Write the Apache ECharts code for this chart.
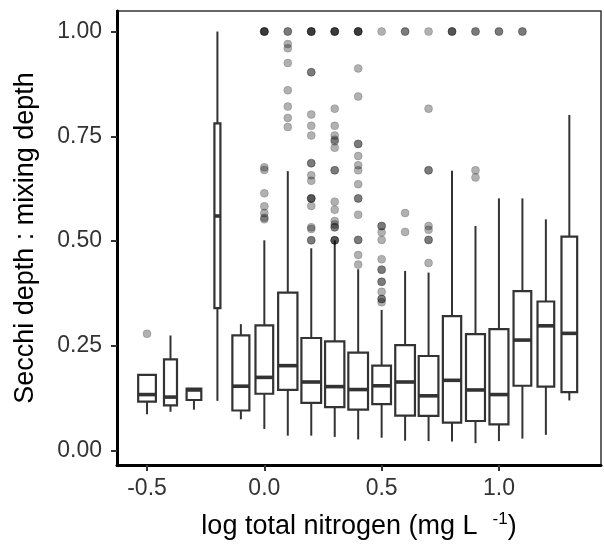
<!DOCTYPE html>
<html><head><meta charset="utf-8">
<script src="https://cdn.jsdelivr.net/npm/echarts@6/dist/echarts.min.js"></script>
<style>html,body{margin:0;padding:0;background:#fff}#c{width:604px;height:545px}</style>
</head><body><div id="c"></div>
<script>
// ---- data ----
const groups      = [-0.5, -0.4, -0.3, -0.2, -0.1, 0.0, 0.1, 0.2, 0.3, 0.4, 0.5, 0.6, 0.7, 0.8, 0.9, 1.0, 1.1, 1.2, 1.3];
const whiskerLow  = [0.087, 0.093, 0.098, 0.119, 0.075, 0.052, 0.036, 0.036, 0.033, 0.027, 0.031, 0.024, 0.023, 0.022, 0.018, 0.023, 0.029, 0.038, 0.120];
const q1          = [0.117, 0.108, 0.121, 0.340, 0.096, 0.136, 0.145, 0.114, 0.104, 0.098, 0.111, 0.084, 0.083, 0.067, 0.071, 0.063, 0.155, 0.153, 0.140];
const median      = [0.134, 0.128, 0.145, 0.560, 0.154, 0.175, 0.203, 0.164, 0.153, 0.146, 0.155, 0.164, 0.131, 0.168, 0.145, 0.134, 0.264, 0.298, 0.280];
const q3          = [0.181, 0.218, 0.148, 0.781, 0.275, 0.299, 0.377, 0.269, 0.261, 0.234, 0.203, 0.252, 0.226, 0.321, 0.278, 0.290, 0.381, 0.356, 0.511];
const whiskerHigh = [0.183, 0.275, 0.148, 1.000, 0.302, 0.502, 0.667, 0.483, 0.502, 0.433, 0.336, 0.429, 0.425, 0.668, 0.536, 0.602, 0.602, 0.552, 0.801];

const outlierGroups = [-0.5, 0.0, 0.1, 0.2, 0.3, 0.4, 0.5, 0.6, 0.7, 0.8, 0.9, 1.0, 1.1];
const outlierValues = [
  [0.279],
  [1, 1, 1, 1, 0.676, 0.670, 0.614, 0.583, 0.567, 0.556, 0.552],
  [1, 1, 0.970, 0.960, 0.925, 0.860, 0.821, 0.794, 0.772],
  [1, 1, 1, 1, 0.903, 0.903, 0.802, 0.775, 0.752, 0.686, 0.686, 0.657, 0.644, 0.602, 0.602, 0.602, 0.584, 0.533, 0.529, 0.502, 0.502],
  [1, 1, 1, 1, 0.816, 0.775, 0.752, 0.742, 0.738, 0.723, 0.669, 0.669, 0.594, 0.575, 0.548, 0.540, 0.533, 0.533, 0.502, 0.502, 0.502],
  [1, 1, 1, 1, 0.912, 0.845, 0.732, 0.732, 0.703, 0.681, 0.669, 0.636, 0.602, 0.602, 0.563, 0.503, 0.503, 0.467, 0.444],
  [1, 0.536, 0.536, 0.521, 0.503, 0.457, 0.432, 0.432, 0.403, 0.403, 0.379, 0.362, 0.362, 0.354],
  [1, 1, 0.567, 0.522],
  [1, 0.816, 0.669, 0.669, 0.536, 0.527, 0.503, 0.503, 0.448],
  [1, 1, 1],
  [1, 1, 0.669, 0.652],
  [1, 1],
  [1, 1]
];

const xTickValues = [-0.5, 0.0, 0.5, 1.0];
const yTickValues = [0, 0.25, 0.5, 0.75, 1.0];

// ---- style (box widths in px, varying like varwidth) ----
const boxWidthsPx = [17.7, 13, 14.7, 6, 17, 17.7, 19.3, 19.7, 19.3, 19.7, 18.7, 19.7, 19.7, 18.3, 19, 19, 17.7, 16.7, 15.7];

const boxData = groups.map((g, i) => [g, whiskerLow[i], q1[i], median[i], q3[i], whiskerHigh[i]]);
const pointData = [];
outlierGroups.forEach((g, i) => outlierValues[i].forEach(v => pointData.push([g, v])));

const LINE = '#333';
function renderBox(params, api) {
  const x = api.value(0);
  const pLo = api.coord([x, api.value(1)]);
  const pQ1 = api.coord([x, api.value(2)]);
  const pMed = api.coord([x, api.value(3)]);
  const pQ3 = api.coord([x, api.value(4)]);
  const pHi = api.coord([x, api.value(5)]);
  const w = boxWidthsPx[params.dataIndex];
  const cx = pQ1[0];
  return {
    type: 'group',
    children: [
      { type: 'line', shape: { x1: cx, y1: pLo[1], x2: cx, y2: pQ1[1] }, style: { stroke: LINE, lineWidth: 2 } },
      { type: 'line', shape: { x1: cx, y1: pQ3[1], x2: cx, y2: pHi[1] }, style: { stroke: LINE, lineWidth: 2 } },
      { type: 'rect', shape: { x: cx - w / 2, y: pQ3[1], width: w, height: pQ1[1] - pQ3[1] }, style: { fill: '#fff', stroke: LINE, lineWidth: 2.2 } },
      { type: 'line', shape: { x1: cx - w / 2, y1: pMed[1], x2: cx + w / 2, y2: pMed[1] }, style: { stroke: LINE, lineWidth: 3.6 } }
    ]
  };
}

const FONT = '"Liberation Sans", Arial, Helvetica, sans-serif';
const chart = echarts.init(document.getElementById('c'), null, { renderer: 'canvas' });
chart.setOption({
  animation: false,
  backgroundColor: '#fff',
  grid: { left: 117, right: 3, top: 11, bottom: 80, show: true, borderColor: '#333', borderWidth: 1.5, backgroundColor: 'transparent', outerBoundsMode: 'none', containLabel: false },
  xAxis: {
    type: 'value', min: -0.628, max: 1.435,
    splitLine: { show: false },
    axisLine: { show: true, onZero: false, lineStyle: { color: '#000', width: 3 } },
    axisTick: { show: true, length: 6, customValues: xTickValues, lineStyle: { color: '#333', width: 2 } },
    axisLabel: { customValues: xTickValues, formatter: v => v.toFixed(1), fontSize: 23, color: '#333', fontFamily: FONT, margin: 12 },
    name: 'log total nitrogen (mg L  {sup|-1})',
    nameLocation: 'middle', nameGap: 46,
    nameTextStyle: { fontSize: 27, color: '#000', fontFamily: FONT,
      rich: { sup: { fontSize: 17, color: '#000', fontFamily: FONT, padding: [0, 0, 14, 0] } } }
  },
  yAxis: {
    type: 'value', min: -0.034, max: 1.049,
    splitLine: { show: false },
    axisLine: { show: true, onZero: false, lineStyle: { color: '#000', width: 3 } },
    axisTick: { show: true, length: 6, customValues: yTickValues, lineStyle: { color: '#333', width: 2 } },
    axisLabel: { customValues: yTickValues, formatter: v => v.toFixed(2), fontSize: 23, color: '#333', fontFamily: FONT, margin: 15 },
    name: 'Secchi depth : mixing depth',
    nameLocation: 'middle', nameGap: 78,
    nameTextStyle: { fontSize: 27, color: '#000', fontFamily: FONT }
  },
  series: [
    { type: 'custom', renderItem: renderBox, data: boxData, encode: { x: 0, y: [1, 2, 3, 4, 5] }, z: 2 },
    { type: 'scatter', data: pointData, symbol: 'circle', symbolSize: 8,
      itemStyle: { color: 'rgba(0,0,0,0.38)', borderColor: 'rgba(0,0,0,0.2)', borderWidth: 1 }, z: 3 }
  ]
});
</script></body></html>
